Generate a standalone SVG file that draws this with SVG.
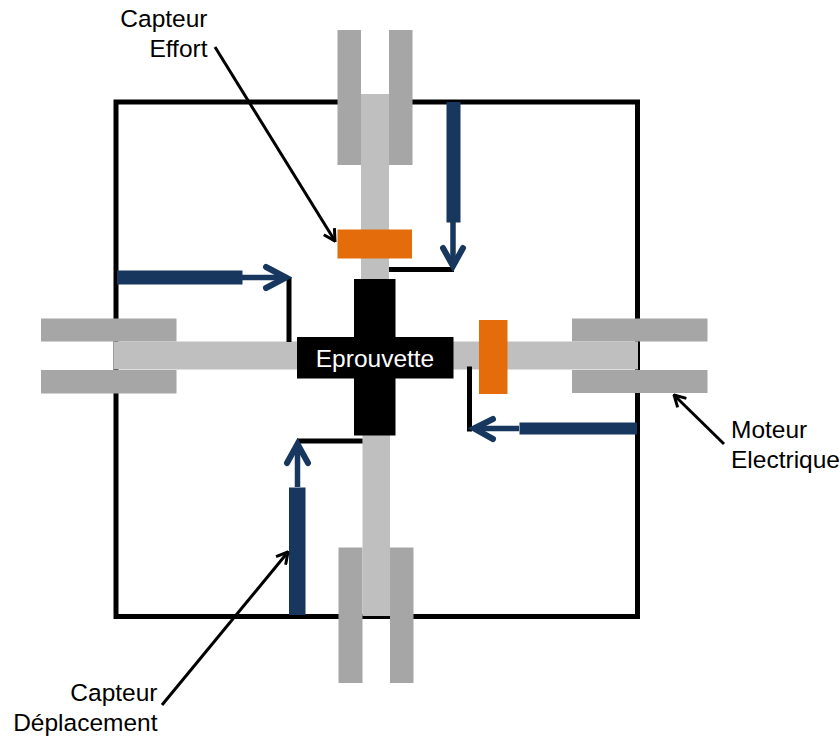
<svg xmlns="http://www.w3.org/2000/svg" width="840" height="737" viewBox="0 0 840 737">
<style>
.bar{fill:#bfbfbf}
.jaw{fill:#a6a6a6}
.org{fill:#e46c0a}
.blu{fill:#17375e}
.frame{fill:none;stroke:#000;stroke-width:5}
.link{fill:none;stroke:#000;stroke-width:5}
.shaft{fill:none;stroke:#17375e;stroke-width:5.500}
.head{fill:none;stroke:#17375e;stroke-width:6;stroke-linecap:round;stroke-linejoin:miter}
.lead{fill:none;stroke:#000;stroke-width:3}
text{font-family:"Liberation Sans",Arial,sans-serif;font-size:24.500px;fill:#000}
</style>
<defs>
<marker id="lh" viewBox="0 0 12 12" refX="11" refY="6" markerWidth="15" markerHeight="15" markerUnits="userSpaceOnUse" orient="auto">
<path d="M2 1L11 6L2 11" fill="none" stroke="#000" stroke-width="2.400"/>
</marker>
</defs>
<g id="frame"><rect class="frame" x="116" y="102" width="521.5" height="514.5"/></g>
<g id="top-motor">
<rect class="jaw" x="337.5" y="30" width="23.5" height="135"/>
<rect class="jaw" x="389" y="30" width="23.5" height="135"/>
<rect class="bar" x="361" y="94" width="28" height="186"/>
</g>
<g id="left-motor">
<rect class="jaw" x="41" y="318.5" width="135.5" height="23"/>
<rect class="jaw" x="41" y="370" width="135.5" height="23.5"/>
<rect class="bar" x="113.5" y="341.5" width="184" height="28"/>
</g>
<g id="right-motor">
<rect class="jaw" x="572" y="318.5" width="135.5" height="23"/>
<rect class="jaw" x="572" y="370" width="135.5" height="23"/>
<rect class="bar" x="453" y="341.5" width="185" height="28"/>
</g>
<g id="bottom-motor">
<rect class="jaw" x="338.5" y="547.5" width="24" height="135.5"/>
<rect class="jaw" x="390" y="547.5" width="23.5" height="135.5"/>
<rect class="bar" x="362.5" y="435" width="27.5" height="181"/>
</g>
<g id="capteur-effort-top"><rect class="org" x="337.5" y="229.5" width="74.5" height="29"/></g>
<g id="capteur-effort-right"><rect class="org" x="479" y="320" width="28.5" height="74"/></g>
<g id="eprouvette">
<path d="M354 279H395.5V337H453.5V378.500H395.500V435.500H354V378.500H297V337H354Z" fill="#000"/>
<text x="375" y="366.500" text-anchor="middle" style="fill:#fff">Eprouvette</text>
</g>
<g id="capteur-deplacement-top"><rect class="blu" x="446.500" y="102" width="14" height="120.500"/></g>
<g id="capteur-deplacement-left"><rect class="blu" x="117" y="270.500" width="125.500" height="14"/></g>
<g id="capteur-deplacement-right"><rect class="blu" x="519.500" y="422.500" width="117.500" height="12"/></g>
<g id="capteur-deplacement-bottom"><rect class="blu" x="289" y="487.500" width="16.500" height="127.500"/></g>
<g id="connectors">
<path class="link" d="M389 269.500H454"/>
<path class="link" d="M289 277V342"/>
<path class="link" d="M469.500 366.500V431.500"/>
<path class="link" d="M297 441H362.500"/>
<path class="shaft" d="M453 222V264"/>
<path class="head" d="M443 248L453 266L463 248"/>
<path class="shaft" d="M242 277.500H284"/>
<path class="head" d="M266 267L286 277.500L266 288"/>
<path class="shaft" d="M519 428.500H476"/>
<path class="head" d="M493 419L474 428.500L493 439"/>
<path class="shaft" d="M297.500 487V446"/>
<path class="head" d="M287 463L297.500 444L308 463"/>
<path class="lead" marker-end="url(#lh)" d="M215 47L335 241"/>
<path class="lead" marker-end="url(#lh)" d="M724 444L674 395"/>
<path class="lead" marker-end="url(#lh)" d="M162 705L288 552"/>
</g>
<g id="labels">
<text x="207.500" y="27" text-anchor="end">Capteur</text>
<text x="207.500" y="56.500" text-anchor="end">Effort</text>
<text x="731" y="438">Moteur</text>
<text x="731" y="467.500">Electrique</text>
<text x="157.500" y="701" text-anchor="end">Capteur</text>
<text x="157.500" y="730.500" text-anchor="end">Déplacement</text>
</g>
</svg>
